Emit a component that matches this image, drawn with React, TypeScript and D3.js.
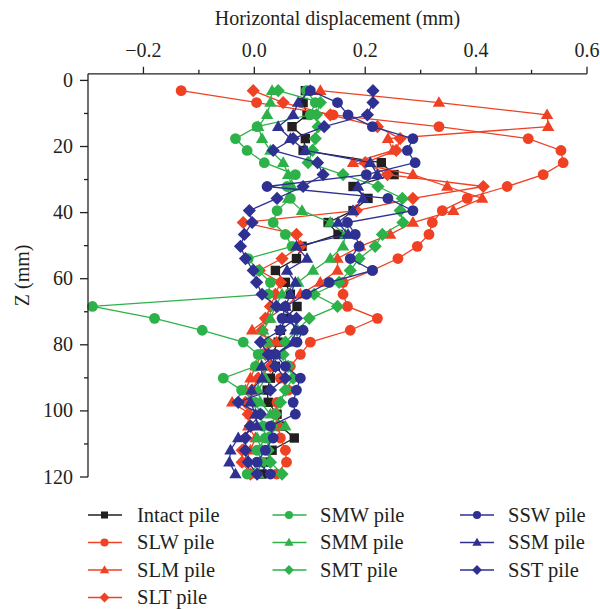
import React from 'react';
import * as d3 from 'd3';

// Depth of each measuring point (mm)
const depths = [3.1, 6.7, 10.4, 14.0, 17.6, 21.2, 24.9, 28.5, 32.1, 35.7, 39.4, 43.0, 46.6, 50.2, 53.9, 57.5, 61.1, 64.7, 68.4, 72.0, 75.6, 79.2, 82.9, 86.5, 90.1, 93.7, 97.4, 101.0, 104.6, 108.2, 111.9, 115.5, 119.1];

const intactPile = [0.092, 0.088, 0.095, 0.068, 0.092, 0.088, 0.229, 0.252, 0.178, 0.205, 0.178, 0.133, 0.151, 0.086, 0.076, 0.038, 0.056, 0.065, 0.077, 0.056, 0.047, 0.043, 0.032, 0.038, 0.029, 0.023, 0.025, 0.041, 0.047, 0.072, 0.032, 0.022, 0.014];
const slwPile = [-0.132, 0.004, 0.142, 0.333, 0.494, 0.553, 0.557, 0.521, 0.456, 0.384, 0.339, 0.321, 0.315, 0.294, 0.259, 0.213, 0.160, 0.160, 0.168, 0.222, 0.173, 0.101, 0.083, 0.065, 0.047, 0.061, 0.041, 0.038, 0.043, 0.047, 0.056, 0.058, 0.040];
const slmPile = [0.119, 0.333, 0.528, 0.530, 0.241, 0.250, 0.178, 0.286, 0.348, 0.411, 0.359, 0.286, 0.245, 0.191, 0.150, 0.150, 0.119, 0.083, 0.056, 0.025, -0.004, 0.040, 0.014, 0.002, -0.007, -0.016, -0.040, -0.007, -0.011, 0.002, -0.007, -0.016, -0.007];
const sltPile = [-0.002, 0.052, 0.137, 0.222, 0.263, 0.256, 0.200, 0.240, 0.413, 0.286, 0.184, -0.020, 0.076, 0.083, 0.050, 0.009, 0.047, 0.038, 0.029, 0.020, 0.014, 0.025, 0.020, 0.029, 0.007, -0.004, -0.016, -0.011, -0.007, -0.016, -0.022, -0.022, -0.007];
const smwPile = [0.094, 0.110, 0.101, 0.005, -0.034, -0.013, 0.018, 0.074, 0.059, 0.065, 0.041, 0.034, 0.056, 0.068, -0.011, 0.007, 0.029, 0.025, -0.292, -0.180, -0.094, -0.020, 0.007, 0.002, -0.056, -0.023, 0.002, 0.011, 0.016, 0.020, 0.005, 0.014, -0.013];
const smmPile = [0.032, 0.029, 0.023, 0.007, 0.014, 0.029, 0.052, 0.061, 0.068, 0.061, 0.086, 0.137, 0.164, 0.160, 0.137, 0.106, 0.079, 0.050, 0.038, 0.029, 0.016, 0.025, 0.011, 0.014, 0.020, 0.007, 0.011, 0.029, 0.056, 0.005, 0.014, 0.011, 0.007];
const smtPile = [0.043, 0.119, 0.112, 0.115, 0.110, 0.105, 0.097, 0.160, 0.223, 0.267, 0.263, 0.268, 0.231, 0.218, 0.189, 0.173, 0.153, 0.108, 0.150, 0.099, 0.077, 0.056, 0.052, 0.061, 0.070, 0.056, 0.047, 0.038, 0.032, 0.025, 0.025, 0.029, 0.050];
const sswPile = [0.101, 0.150, 0.169, 0.213, 0.286, 0.276, 0.290, 0.202, 0.023, 0.241, 0.286, 0.168, 0.182, 0.189, 0.173, 0.213, 0.135, 0.094, 0.056, 0.050, 0.088, 0.077, 0.038, 0.056, 0.083, 0.076, 0.070, 0.074, 0.029, 0.034, 0.020, 0.005, 0.029];
const ssmPile = [0.101, 0.079, 0.070, 0.043, 0.065, 0.092, 0.209, 0.222, 0.187, 0.196, 0.178, 0.151, 0.169, 0.076, 0.095, 0.059, 0.074, 0.065, 0.056, 0.065, 0.074, 0.070, 0.038, 0.013, 0.014, -0.005, -0.007, 0.002, 0.005, -0.029, -0.043, -0.045, -0.034];
const sstPile = [0.214, 0.214, 0.204, 0.126, 0.070, 0.034, 0.114, 0.124, 0.088, 0.041, -0.009, -0.004, -0.018, -0.025, -0.016, -0.002, 0.004, 0.014, 0.040, 0.076, 0.047, 0.011, 0.025, 0.038, 0.056, 0.029, -0.029, 0.011, -0.007, -0.016, -0.016, -0.011, 0.005];

const seriesNames = ['Intact pile', 'SLW pile', 'SLM pile', 'SLT pile', 'SMW pile', 'SMM pile', 'SMT pile', 'SSW pile', 'SSM pile', 'SST pile'];
const seriesValues = [intactPile, slwPile, slmPile, sltPile, smwPile, smmPile, smtPile, sswPile, ssmPile, sstPile];
const seriesColors = ['#231F20', '#EF4123', '#EF4123', '#EF4123', '#2DB24A', '#2DB24A', '#2DB24A', '#2E3192', '#2E3192', '#2E3192'];
const seriesShapes = ['square', 'circle', 'triangle', 'diamond', 'circle', 'triangle', 'diamond', 'circle', 'triangle', 'diamond'];

const xMajorTicks = [-0.2, 0, 0.2, 0.4, 0.6];
const xMinorTicks = [-0.1, 0.1, 0.3, 0.5];
const yMajorTicks = [0, 20, 40, 60, 80, 100, 120];
const yMinorTicks = [10, 30, 50, 70, 90, 110];

const FONT = "'Liberation Serif', 'DejaVu Serif', serif";

function markerPath(shape: string, s: number): string {
  if (shape === 'circle') {
    const r = 5.4 * s;
    return `M${r},0A${r},${r} 0 1,1 ${-r},0A${r},${r} 0 1,1 ${r},0Z`;
  }
  if (shape === 'square') {
    const h = 4.7 * s;
    return `M${-h},${-h}H${h}V${h}H${-h}Z`;
  }
  if (shape === 'triangle') {
    const w = 6.2 * s;
    return `M0,${-6.4 * s}L${w},${4.3 * s}L${-w},${4.3 * s}Z`;
  }
  const d = 6.6 * s;
  return `M0,${-d}L${d},0L0,${d}L${-d},0Z`;
}

export default function App() {
  const W = 600;
  const H = 609;
  const x = d3.scaleLinear().domain([-0.3, 0.6]).range([88, 587]);
  const y = d3.scaleLinear().domain([-2, 120]).range([73.8, 477]);
  const line = d3
    .line<number>()
    .x((v) => x(v))
    .y((_, i) => y(depths[i]));

  const fmt = (v: number) => (v < 0 ? '\u2212' : '') + Math.abs(v).toFixed(1);

  const legendCols = [
    { lx: 88, mx: 104.5, tx: 137 },
    { lx: 272.5, mx: 289, tx: 320 },
    { lx: 460, mx: 477, tx: 508 },
  ];
  const legendRows = [515, 542.5, 570, 597.5];
  const legendPos = [
    [0, 0], [0, 1], [0, 2], [0, 3],
    [1, 0], [1, 1], [1, 2],
    [2, 0], [2, 1], [2, 2],
  ];

  const top = y.range()[0];
  const bottom = y.range()[1];
  const left = x.range()[0];
  const right = x.range()[1];
  const txtStyle = { fontFamily: FONT };

  return (
    <svg
      width={W}
      height={H}
      viewBox={`0 0 ${W} ${H}`}
      style={{ position: 'absolute', left: 0, top: 0, background: '#fff', fontFamily: FONT }}
    >
      <rect x={0} y={0} width={W} height={H} fill="#fff" />
      {/* series */}
      {seriesValues.map((vals, si) => (
        <g key={seriesNames[si]}>
          <path d={line(vals) || ''} fill="none" stroke={seriesColors[si]} strokeWidth={1.3} />
          {vals.map((v, i) => (
            <path
              key={i}
              d={markerPath(seriesShapes[si], 1)}
              transform={`translate(${x(v)},${y(depths[i])})`}
              fill={seriesColors[si]}
            />
          ))}
        </g>
      ))}

      {/* axes */}
      <g stroke="#231F20" strokeWidth={1.3} fill="none">
        <line x1={left} x2={right} y1={top} y2={top} />
        <line x1={left} x2={left} y1={top} y2={bottom} />
        {xMajorTicks.map((t) => (
          <line key={'xM' + t} x1={x(t)} x2={x(t)} y1={top} y2={top - 7} />
        ))}
        {xMinorTicks.map((t) => (
          <line key={'xm' + t} x1={x(t)} x2={x(t)} y1={top} y2={top - 4} />
        ))}
        {yMajorTicks.map((t) => (
          <line key={'yM' + t} x1={left} x2={left - 8} y1={y(t)} y2={y(t)} />
        ))}
        {yMinorTicks.map((t) => (
          <line key={'ym' + t} x1={left} x2={left - 4} y1={y(t)} y2={y(t)} />
        ))}
      </g>
      <g fill="#231F20" fontSize={20}>
        {xMajorTicks.map((t) => (
          <text key={'xl' + t} x={x(t)} y={57} textAnchor="middle" style={txtStyle}>
            {fmt(t)}
          </text>
        ))}
        {yMajorTicks.map((t) => (
          <text key={'yl' + t} x={73} y={y(t) + 6.5} textAnchor="end" style={txtStyle}>
            {t}
          </text>
        ))}
        <text x={(left + right) / 2} y={25} textAnchor="middle" style={txtStyle}>
          Horizontal displacement (mm)
        </text>
        <text transform={`translate(29,${(top + bottom) / 2}) rotate(-90)`} textAnchor="middle" style={txtStyle}>
          Z (mm)
        </text>
      </g>

      {/* legend */}
      {seriesNames.map((name, si) => {
        const [c, r] = legendPos[si];
        const col = legendCols[c];
        const ly = legendRows[r];
        return (
          <g key={'lg' + name}>
            <line x1={col.lx} x2={col.lx + 34} y1={ly} y2={ly} stroke={seriesColors[si]} strokeWidth={1.3} />
            <path d={markerPath(seriesShapes[si], 0.75)} transform={`translate(${col.mx},${ly})`} fill={seriesColors[si]} />
            <text x={col.tx} y={ly + 6.5} fontSize={20.5} fill="#231F20" style={txtStyle}>
              {name}
            </text>
          </g>
        );
      })}
    </svg>
  );
}
